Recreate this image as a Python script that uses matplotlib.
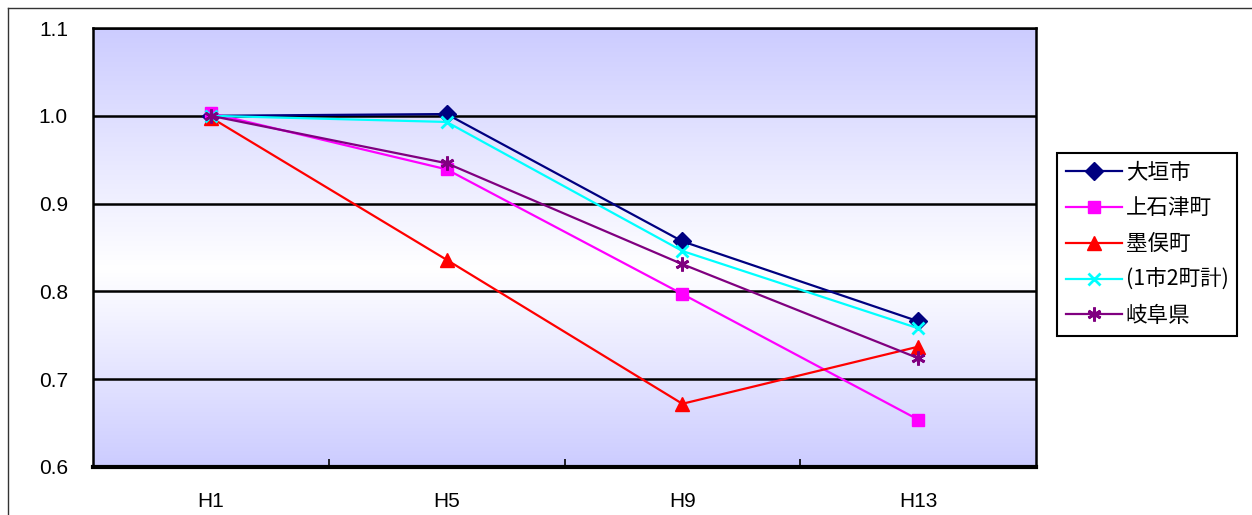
import numpy as np
import matplotlib.pyplot as plt
from matplotlib.colors import LinearSegmentedColormap
from matplotlib.lines import Line2D

plt.rcParams['font.family'] = ['Liberation Sans', 'Noto Sans CJK JP', 'DejaVu Sans']

years = ["H1", "H5", "H9", "H13"]
ogaki = [1.000, 1.002, 0.857, 0.766]
kamiishizu = [1.003, 0.939, 0.797, 0.654]
sunomata = [0.998, 0.836, 0.672, 0.737]
total = [1.000, 0.993, 0.846, 0.758]
gifu = [1.000, 0.946, 0.831, 0.724]

series = [
    ("大垣市", ogaki, "#000080", "D", 9),
    ("上石津町", kamiishizu, "#FF00FF", "s", 9),
    ("墨俣町", sunomata, "#FF0000", "^", 10),
    ("(1市2町計)", total, "#00FFFF", "x", 9),
    ("岐阜県", gifu, "#800080", (6, 2, 0), 10),
]

fig = plt.figure(figsize=(12.52, 5.15), dpi=100)
ax = fig.add_axes([93 / 1252, 48 / 515, 943 / 1252, 439 / 515])

# lavender -> white -> lavender background
cmap = LinearSegmentedColormap.from_list(
    "bg", [(0.0, "#CCCCFF"), (0.45, "#FFFFFF"), (1.0, "#CCCCFF")])
grad = np.linspace(0, 1, 256).reshape(-1, 1)
ax.imshow(grad, cmap=cmap, aspect="auto", origin="lower",
          extent=[0, 1, 0, 1], transform=ax.transAxes, zorder=0)

x = np.arange(len(years))
for name, vals, color, marker, ms in series:
    ax.plot(x, vals, color=color, lw=1.6, marker=marker, ms=ms,
            mec=color, mfc=color, mew=2 if marker in ("x", (6, 2, 0)) else 1,
            label=name, zorder=3)

ax.set_xlim(-0.5, 3.5)
ax.set_ylim(0.6, 1.1)
ax.set_yticks([0.6, 0.7, 0.8, 0.9, 1.0, 1.1])
ax.set_yticklabels(["0.6", "0.7", "0.8", "0.9", "1.0", "1.1"])
ax.set_xticks(x)
ax.set_xticklabels(years)
ax.set_xticks([0.5, 1.5, 2.5], minor=True)
ax.tick_params(axis="x", which="major", length=0, pad=18, labelsize=15)
ax.tick_params(axis="x", which="minor", direction="in", length=6, width=1.2)
ax.tick_params(axis="y", length=0, pad=18, labelsize=15)
ax.grid(axis="y", color="black", lw=1.8, zorder=1)

for side in ("left", "top", "right"):
    ax.spines[side].set_linewidth(1.8)
ax.spines["bottom"].set_linewidth(3)

leg = ax.legend(loc="upper left", bbox_to_anchor=(1057 / 1252, 1 - 153 / 515),
                bbox_transform=fig.transFigure, fancybox=False, frameon=True,
                edgecolor="black", framealpha=1, fontsize=15.5,
                handlelength=2.6, labelspacing=0.64, borderpad=0.4,
                handletextpad=0.2, borderaxespad=0)
leg.get_frame().set_linewidth(1.5)
for t in leg.get_texts():
    t.set_family(["Noto Sans CJK JP", "DejaVu Sans"])

# outer chart border
fig.add_artist(Line2D([8 / 1252, 8 / 1252], [0, 1 - 8 / 515],
                      transform=fig.transFigure, color="#333333", lw=1))
fig.add_artist(Line2D([8 / 1252, 1], [1 - 8 / 515, 1 - 8 / 515],
                      transform=fig.transFigure, color="#333333", lw=1))

fig.savefig("out.png", dpi=100)
